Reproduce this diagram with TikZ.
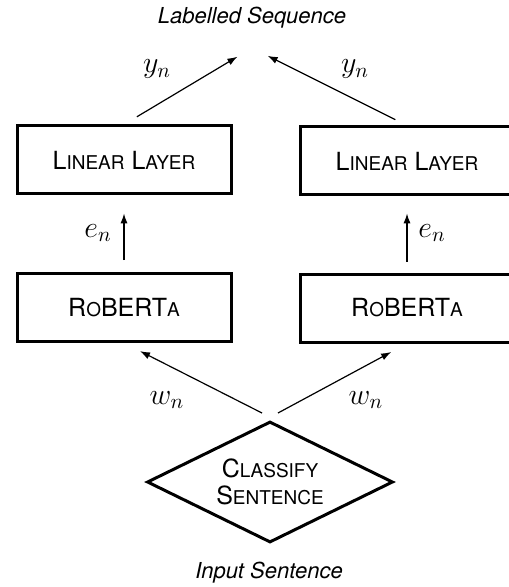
\RequirePackage{fix-cm}
\documentclass[tikz,border=0pt]{standalone}
\usepackage{fontspec}
\setmainfont{TeX Gyre Heros}
\usetikzlibrary{arrows.meta,shapes.geometric}

% small-capital letters set at a reduced size
\newcommand{\smc}[1]{{\fontsize{9.5}{10}\selectfont #1}}

\begin{document}
\begin{tikzpicture}[x=0.5pt,y=-0.5pt,
  block/.style={draw,line width=1.5pt,minimum width=107pt,minimum height=34pt,
    inner sep=0pt,font=\fontsize{12.5}{14}\selectfont},
  decision/.style={draw,line width=1.5pt,shape=diamond,aspect=2.03,
    minimum width=123pt,minimum height=60.5pt,inner sep=0pt,align=center,
    font=\fontsize{12.5}{13.5}\selectfont},
  flow/.style={line width=0.6pt,-{Latex[length=5pt,width=3.6pt]}},
  caption/.style={font=\fontsize{11}{13}\selectfont\itshape},
  sym/.style={font=\fontsize{15}{17}\selectfont}]

\useasboundingbox (0,0) rectangle (508,587);

% boxes
\node[block] (lin1) at (124,160) {L\smc{INEAR} L\smc{AYER}};
\node[block] (lin2) at (407,161) {L\smc{INEAR} L\smc{AYER}};
\node[block] (rob1) at (124,307.5) {R\smc{O}BERT\smc{A}};
\node[block] (rob2) at (407,308) {R\smc{O}BERT\smc{A}};
\node[decision] (cls) at (270,482) {C\smc{LASSIFY}\\S\smc{ENTENCE}};

% captions
\node[caption] (out) at (252,18) {Labelled Sequence};
\node[caption] (inp) at (269,573) {Input Sentence};

% meeting point of the output arrows and starts of the input arrows
\coordinate (goal) at (252,48);
\coordinate (wl) at (262,413);
\coordinate (wr) at (278,413);

% connectors
\draw[flow,shorten <=7.5pt,shorten >=8.5pt] (lin1.north) -- (goal);
\draw[flow,shorten <=6.5pt,shorten >=8.75pt] (lin2.north) -- (goal);
\draw[flow,shorten <=6pt,shorten >=9pt] (rob1.north) -- (lin1.south);
\draw[flow,shorten <=5.5pt,shorten >=8.5pt] (rob2.north) -- (lin2.south);
\draw[flow,shorten >=9pt] (wl) -- (rob1.south);
\draw[flow,shorten >=9pt] (wr) -- (rob2.south);

% edge labels
\node[sym] (yl) at (157,69) {$y_n$};
\node[sym] (yr) at (355,69) {$y_n$};
\node[sym] (el) at (98,233) {$e_n$};
\node[sym] (er) at (432,233) {$e_n$};
\node[sym] (wnl) at (167,400) {$w_n$};
\node[sym] (wnr) at (366,400) {$w_n$};
\end{tikzpicture}
\end{document}
